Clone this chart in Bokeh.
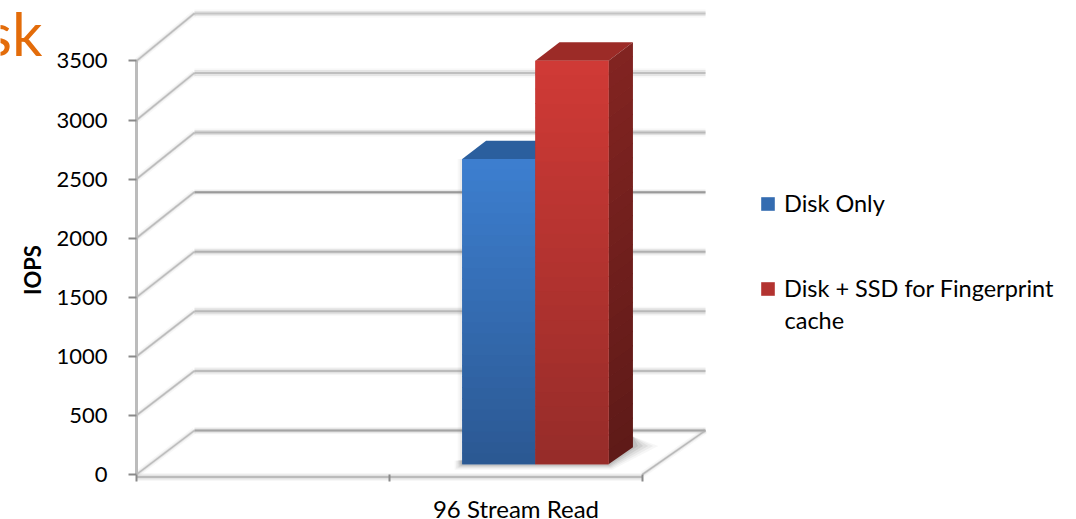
from bokeh.core.properties import value
from bokeh.embed import file_html
from bokeh.models import FixedTicker, Legend, LegendItem, LinearAxis, Range1d
from bokeh.plotting import figure
from bokeh.resources import INLINE

# Chart data
categories = ["", "96 Stream Read"]
series_names = ["Disk Only", "Disk + SSD for Fingerprint"]
series_name_wrap = "cache"
disk_only = [2580]
disk_ssd = [3410]
y_ticks = [0, 500, 1000, 1500, 2000, 2500, 3000, 3500]

# Per-gridline look: colour of the core and of the soft halo, core width
grid_core = ["#9a9a9a", "#b4b4b4", "#b0b0b0", "#a8a8a8", "#8f8f8f", "#b0b0b0", "#b8b8b8", "#bdbdbd"]
grid_halo_width = [4, 5, 6, 5, 3, 5, 6, 5]

# Oblique projection of the 3-D box: depth 0 is the front plane, depth 1 the back wall
DEPTH_X = 0.229
DEPTH_Y = 372.4
def px(x, depth):
    return x + depth * (DEPTH_X + x * 0.01)
def py(v, depth):
    return v + depth * (DEPTH_Y + v * 0.0086)

BAR_LEFT = 1.232
BAR_W = 0.2885
BAR_D0, BAR_D1 = 0.23, 0.62

p = figure(width=1076, height=519, output_backend="svg", toolbar_location=None,
           x_range=Range1d(-136 / 253, 940 / 253), y_range=Range1d(-381, 4012),
           min_border=0, outline_line_color=None, background_fill_color="white")
p.grid.visible = False
p.axis.visible = False

def soft_line(xs, ys, color, width, halo):
    p.line(xs, ys, line_color=color, line_width=halo + 3, line_alpha=0.10)
    p.line(xs, ys, line_color=color, line_width=halo, line_alpha=0.30)
    p.line(xs, ys, line_color=color, line_width=width, line_alpha=0.85)

# Back wall gridlines and the wall's diagonals
for v, c, h in zip(y_ticks, grid_core, grid_halo_width):
    soft_line([px(0, 1), px(2, 1)], [py(v, 1), py(v, 1)], c, 2, h)
    soft_line([px(0, 0), px(0, 1)], [py(v, 0), py(v, 1)], "#b4b4b4", 1.5, 3)

# Floor edges
soft_line([px(2, 0), px(2, 1)], [py(0, 0), py(0, 1)], "#b0b0b0", 1.5, 3)
soft_line([0, 2], [py(0, 0) - 22, py(0, 0) - 22], "#b4b4b4", 2, 5)

# Soft shadow on the floor: nested polygons that darken towards the bars
xl = BAR_LEFT
xr = BAR_LEFT + 2 * BAR_W
for grow, alpha in [(1.0, 0.05), (0.8, 0.07), (0.6, 0.09), (0.4, 0.12), (0.2, 0.15)]:
    reach = 0.10 * grow
    p.patch([px(xl, BAR_D0) - 0.03 * grow, px(xr, BAR_D0) + reach * 0.15, px(xr, BAR_D1) + reach, px(xr, BAR_D1), px(xl, BAR_D0) - 0.03 * grow],
            [py(0, BAR_D0) - 45 * grow, py(0, BAR_D0) - 45 * grow, py(0, BAR_D1) + 10, py(0, BAR_D1) + 90, py(0, BAR_D0) + 30],
            fill_color="#666666", fill_alpha=alpha, line_color=None)
for w, a in [(9, 0.05), (5, 0.08)]:
    p.line([px(xl, BAR_D0)] * 2, [py(0, BAR_D0), py(disk_only[0], BAR_D0)],
           line_color="#777777", line_width=w, line_alpha=a)

def lerp(a, b, t):
    return tuple(round(a[i] + (b[i] - a[i]) * t) for i in range(3))

def to_hex(rgb):
    return "#%02x%02x%02x" % rgb

def gradient_face(x_edges, depths, v_top, top_rgb, bottom_rgb, steps=28):
    # Vertical colour ramp built from thin slices of the face
    for i in range(steps):
        lo = v_top * i / steps
        hi = min(v_top * (i + 1) / steps + 8, v_top)
        t = (i + 0.5) / steps
        col = to_hex(lerp(bottom_rgb, top_rgb, t))
        xs = [px(x_edges[0], depths[0]), px(x_edges[1], depths[1]), px(x_edges[1], depths[1]), px(x_edges[0], depths[0])]
        ys = [py(lo, depths[0]), py(lo, depths[1]), py(hi, depths[1]), py(hi, depths[0])]
        p.patch(xs, ys, fill_color=col, line_color=None)

def bar(left, v, front_top, front_bottom, side_top, side_bottom, top_col):
    right = left + BAR_W
    # Top face
    p.patch([px(left, BAR_D0), px(right, BAR_D0), px(right, BAR_D1), px(left, BAR_D1)],
            [py(v, BAR_D0), py(v, BAR_D0), py(v, BAR_D1), py(v, BAR_D1)],
            fill_color=top_col, line_color=None)
    # Side face
    gradient_face((right, right), (BAR_D0, BAR_D1), v, side_top, side_bottom)
    # Front face, solid first so that the legend swatch has one colour
    swatch = p.quad(left=[px(left, BAR_D0)], right=[px(right, BAR_D0)],
                    bottom=[py(0, BAR_D0)], top=[py(v, BAR_D0)],
                    fill_color=to_hex(lerp(front_top, front_bottom, 0.5)), line_color=None)
    gradient_face((left, right), (BAR_D0, BAR_D0), v, front_top, front_bottom)
    return swatch

blue = bar(BAR_LEFT, disk_only[0], (61, 127, 208), (43, 88, 146), (30, 70, 120), (24, 56, 96), "#2b5f9e")
red = bar(BAR_LEFT + BAR_W, disk_ssd[0], (208, 58, 54), (150, 44, 41), (130, 36, 33), (94, 26, 24), "#9c2b27")

# Value axis, fixed to the front-left edge of the box
y_axis = LinearAxis(ticker=FixedTicker(ticks=y_ticks), fixed_location=0, bounds=(0, 3500),
                    axis_line_color="#bcbcbc", axis_line_width=3,
                    major_tick_line_color="#8a8a8a", major_tick_line_width=2,
                    major_tick_out=8, major_tick_in=0, minor_tick_out=0, minor_tick_in=0,
                    major_label_standoff=21, major_label_text_font="Lato",
                    major_label_text_font_size="22px", major_label_text_color="#000000")
p.add_layout(y_axis, "left")

# Category boundaries along the floor's front edge
x_axis = LinearAxis(ticker=FixedTicker(ticks=[0, 1, 2]), fixed_location=0,
                    axis_line_color=None, major_tick_line_color="#8a8a8a", major_tick_line_width=2,
                    major_tick_out=7, major_tick_in=0, minor_tick_out=0, minor_tick_in=0,
                    major_label_text_font_size="0px", major_label_text_color=None)
p.add_layout(x_axis, "below")

label_axis = LinearAxis(ticker=FixedTicker(ticks=[1.5]), fixed_location=0,
                        major_label_overrides={1.5: categories[1]},
                        axis_line_color=None, major_tick_line_color=None,
                        major_tick_out=0, major_tick_in=0, minor_tick_out=0, minor_tick_in=0,
                        major_label_standoff=20, major_label_text_font="Lato",
                        major_label_text_font_size="24px", major_label_text_color="#000000")
p.add_layout(label_axis, "below")

# Axis title and the clipped slide heading behind the chart
p.text([-0.41], [1750 - 20], text=["IOPS"], angle=1.5708, text_align="center", text_baseline="middle",
       text_font=value("Lato"), text_font_style="bold", text_font_size="22px", text_color="#000000")
p.text([-0.372], [3735], text=["sk"], text_align="right", text_baseline="middle",
       text_font=value("Lato"), text_font_size="60px", text_color="#e36c0a")

legend = Legend(items=[LegendItem(label=series_names[0], renderers=[blue]),
                       LegendItem(label=series_names[1], renderers=[red])],
                location=(759, 217), background_fill_alpha=0, border_line_color=None,
                glyph_width=17, glyph_height=17, label_standoff=8, spacing=57,
                padding=6, margin=0, label_text_font="Lato", label_text_font_size="23.5px",
                label_text_color="#000000")
p.add_layout(legend, "center")

# Second line of the long legend entry
p.text([(784 - 136) / 253], [(474 - 320) / 0.11814], text=[series_name_wrap], text_align="left", text_baseline="middle",
       text_font=value("Lato"), text_font_size="23.5px", text_color="#000000")

open("out.html", "w").write(file_html(p, INLINE))
